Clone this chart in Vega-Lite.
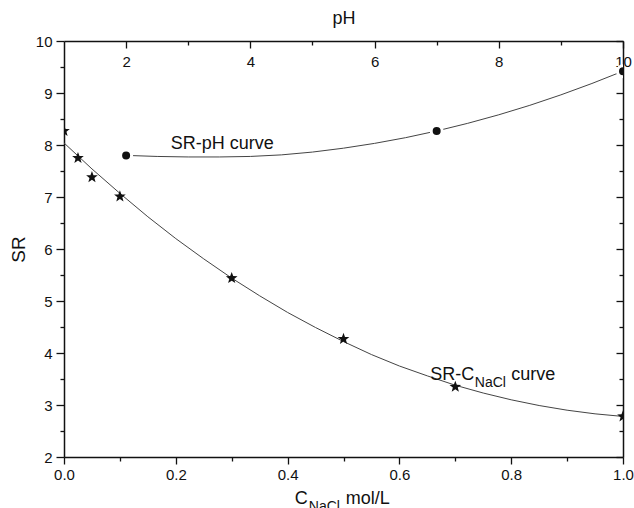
{
  "$schema": "https://vega.github.io/schema/vega-lite/v6.json",
  "width": 559,
  "height": 416,
  "autosize": {"type": "none"},
  "padding": {"left": 64, "top": 41, "right": 11, "bottom": 51},
  "background": "white",
  "config": {
    "font": "Liberation Sans",
    "view": {"stroke": null},
    "axis": {"grid": false, "domainColor": "#111", "domainWidth": 1.5, "tickColor": "#111", "tickWidth": 1.3, "labelColor": "#111", "titleColor": "#111", "labelFlush": false, "labelFontSize": 15, "titleFontWeight": "normal", "labelOverlap": false}
  },
  "datasets": {
    "curveC": [
      {"C": 0, "SR": 8.04}, {"C": 0.05, "SR": 7.54}, {"C": 0.1, "SR": 7.07}, {"C": 0.15, "SR": 6.62},
      {"C": 0.2, "SR": 6.2}, {"C": 0.25, "SR": 5.81}, {"C": 0.3, "SR": 5.44}, {"C": 0.35, "SR": 5.1},
      {"C": 0.4, "SR": 4.78}, {"C": 0.45, "SR": 4.49}, {"C": 0.5, "SR": 4.22}, {"C": 0.55, "SR": 3.97},
      {"C": 0.6, "SR": 3.75}, {"C": 0.65, "SR": 3.56}, {"C": 0.7, "SR": 3.38}, {"C": 0.75, "SR": 3.23},
      {"C": 0.8, "SR": 3.1}, {"C": 0.85, "SR": 2.99}, {"C": 0.9, "SR": 2.9}, {"C": 0.95, "SR": 2.83},
      {"C": 1.0, "SR": 2.78}
    ],
    "stars": [
      {"C": 0, "SR": 8.27}, {"C": 0.025, "SR": 7.75}, {"C": 0.05, "SR": 7.38}, {"C": 0.1, "SR": 7.01},
      {"C": 0.3, "SR": 5.44}, {"C": 0.5, "SR": 4.27}, {"C": 0.7, "SR": 3.35}, {"C": 1.0, "SR": 2.78}
    ],
    "curvePH": [
      {"pH": 2, "SR": 7.8}, {"pH": 2.5, "SR": 7.78}, {"pH": 3, "SR": 7.77}, {"pH": 3.5, "SR": 7.77},
      {"pH": 4, "SR": 7.78}, {"pH": 4.5, "SR": 7.81}, {"pH": 5, "SR": 7.864}, {"pH": 5.5, "SR": 7.939},
      {"pH": 6, "SR": 8.031}, {"pH": 6.5, "SR": 8.141}, {"pH": 7, "SR": 8.27}, {"pH": 7.5, "SR": 8.417},
      {"pH": 8, "SR": 8.581}, {"pH": 8.5, "SR": 8.763}, {"pH": 9, "SR": 8.964}, {"pH": 9.5, "SR": 9.183},
      {"pH": 10, "SR": 9.42}
    ],
    "dotsPH": [{"pH": 2, "SR": 7.8}, {"pH": 7, "SR": 8.27}, {"pH": 10, "SR": 9.42}],
    "labels": [
      {"C": 0.191, "SR": 7.92, "text": "SR-pH curve", "role": "ann"},
      {"C": 0.655, "SR": 3.49, "text": "SR-C", "role": "ann"},
      {"C": 0.735, "SR": 3.35, "text": "NaCl", "role": "annsub"},
      {"C": 0.8, "SR": 3.49, "text": "curve", "role": "ann"},
      {"C": 0.413, "SR": 1.09, "text": "C", "role": "title"},
      {"C": 0.438, "SR": 0.97, "text": "NaCl,", "role": "titlesub"},
      {"C": 0.504, "SR": 1.09, "text": "mol/L", "role": "title"}
    ]
  },
  "resolve": {"scale": {"x": "independent"}, "axis": {"x": "independent", "y": "independent"}},
  "layer": [
    {
      "data": {"name": "curveC"},
      "mark": {"type": "line", "color": "#444", "strokeWidth": 1, "clip": true},
      "encoding": {
        "x": {"field": "C", "type": "quantitative", "scale": {"domain": [0, 1], "nice": false, "zero": false},
          "axis": {"orient": "bottom", "values": [0, 0.2, 0.4, 0.6, 0.8, 1.0], "format": ".1f", "tickSize": 7, "labelPadding": 3, "title": null}},
        "y": {"field": "SR", "type": "quantitative", "scale": {"domain": [2, 10], "nice": false, "zero": false},
          "axis": {"orient": "left", "values": [2, 3, 4, 5, 6, 7, 8, 9, 10], "tickSize": 8, "labelPadding": 4, "title": "SR", "titleFontSize": 19, "titlePadding": 7}}
      }
    },
    {
      "data": {"name": "stars"},
      "mark": {"type": "point", "shape": "M0,-1L0.247,-0.34L0.951,-0.309L0.399,0.13L0.588,0.809L0,0.42L-0.588,0.809L-0.399,0.13L-0.951,-0.309L-0.247,-0.34Z", "filled": true, "color": "#111", "size": 150, "opacity": 1, "clip": true},
      "encoding": {
        "x": {"field": "C", "type": "quantitative", "scale": {"domain": [0, 1], "nice": false, "zero": false},
          "axis": {"orient": "bottom", "values": [0.1, 0.3, 0.5, 0.7, 0.9], "labels": false, "domain": false, "tickSize": 4, "title": null}},
        "y": {"field": "SR", "type": "quantitative", "scale": {"domain": [2, 10], "nice": false, "zero": false},
          "axis": {"orient": "left", "values": [2.5, 3.5, 4.5, 5.5, 6.5, 7.5, 8.5, 9.5], "labels": false, "domain": false, "tickSize": 4, "title": null}}
      }
    },
    {
      "data": {"name": "curvePH"},
      "mark": {"type": "line", "color": "#444", "strokeWidth": 1, "clip": true},
      "encoding": {
        "x": {"field": "pH", "type": "quantitative", "scale": {"domain": [1, 10], "nice": false, "zero": false},
          "axis": {"orient": "top", "values": [2, 4, 6, 8, 10], "tickSize": -7, "labelPadding": -21, "title": "pH", "titleFontSize": 18, "titleBaseline": "middle", "titleY": -23}},
        "y": {"field": "SR", "type": "quantitative", "scale": {"domain": [2, 10], "nice": false, "zero": false},
          "axis": {"orient": "right", "values": [2, 3, 4, 5, 6, 7, 8, 9, 10], "labels": false, "tickSize": -7, "title": null}}
      }
    },
    {
      "data": {"name": "dotsPH"},
      "mark": {"type": "circle", "color": "#111", "size": 121, "opacity": 1, "stroke": "white", "strokeWidth": 3, "clip": true},
      "encoding": {
        "x": {"field": "pH", "type": "quantitative", "scale": {"domain": [1, 10], "nice": false, "zero": false},
          "axis": {"orient": "top", "values": [3, 5, 7, 9], "labels": false, "domain": false, "tickSize": -4, "title": null}},
        "y": {"field": "SR", "type": "quantitative", "scale": {"domain": [2, 10], "nice": false, "zero": false},
          "axis": {"orient": "right", "values": [2.5, 3.5, 4.5, 5.5, 6.5, 7.5, 8.5, 9.5], "labels": false, "domain": false, "tickSize": -4, "title": null}}
      }
    },
    {
      "data": {"name": "labels"},
      "transform": [{"filter": "datum.role == 'ann'"}],
      "mark": {"type": "text", "align": "left", "baseline": "alphabetic", "fontSize": 18, "color": "#111"},
      "encoding": {
        "x": {"field": "C", "type": "quantitative", "scale": {"domain": [0, 1], "nice": false, "zero": false}, "axis": null},
        "y": {"field": "SR", "type": "quantitative", "scale": {"domain": [2, 10], "nice": false, "zero": false}, "axis": null},
        "text": {"field": "text"}
      }
    },
    {
      "data": {"name": "labels"},
      "transform": [{"filter": "datum.role == 'annsub' || datum.role == 'titlesub'"}],
      "mark": {"type": "text", "align": "left", "baseline": "alphabetic", "fontSize": 14, "color": "#111"},
      "encoding": {
        "x": {"field": "C", "type": "quantitative", "scale": {"domain": [0, 1], "nice": false, "zero": false}, "axis": null},
        "y": {"field": "SR", "type": "quantitative", "scale": {"domain": [2, 10], "nice": false, "zero": false}, "axis": null},
        "text": {"field": "text"}
      }
    },
    {
      "data": {"name": "labels"},
      "transform": [{"filter": "datum.role == 'title'"}],
      "mark": {"type": "text", "align": "left", "baseline": "alphabetic", "fontSize": 18, "color": "#111"},
      "encoding": {
        "x": {"field": "C", "type": "quantitative", "scale": {"domain": [0, 1], "nice": false, "zero": false}, "axis": null},
        "y": {"field": "SR", "type": "quantitative", "scale": {"domain": [2, 10], "nice": false, "zero": false}, "axis": null},
        "text": {"field": "text"}
      }
    }
  ]
}
